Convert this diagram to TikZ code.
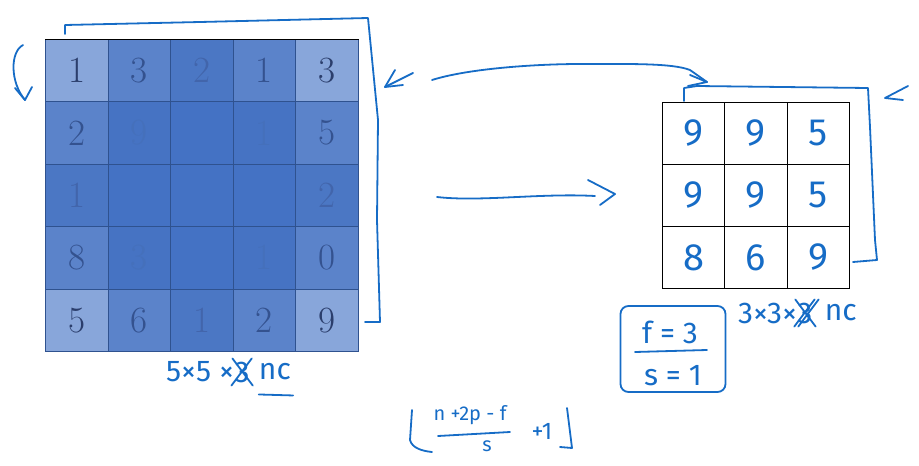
\documentclass[tikz,border=0pt]{standalone}
\usepackage{fontspec}
\newfontfamily\hand{Fira Sans}
\definecolor{ink}{RGB}{22,108,198}
\definecolor{cA}{HTML}{88A6DA}
\definecolor{cB}{HTML}{5B83CA}
\definecolor{cC}{HTML}{4B77C4}
\definecolor{cD}{HTML}{4673C3}
\definecolor{cE}{HTML}{4472C4}
\definecolor{edgeblue}{HTML}{2F528F}
\definecolor{tA}{HTML}{2B3E6C}
\definecolor{tB}{HTML}{34528F}
\definecolor{tC}{HTML}{4265AB}
\definecolor{tD}{HTML}{4570BB}
\definecolor{tE}{HTML}{4472C4}
\begin{document}
\begin{tikzpicture}[x=1pt,y=-1pt,
  inkline/.style={draw=ink,line width=1.8pt,line cap=round,line join=round},
  cell/.style={draw=edgeblue,line width=0.6pt,minimum width=62.6pt,minimum height=62.4pt,inner sep=0pt,anchor=north west,font=\fontsize{37}{39}\selectfont},
  ocell/.style={draw=black,line width=1pt,minimum width=62.3pt,minimum height=62pt,inner sep=0pt,anchor=north west,font=\hand\fontsize{38}{40}\selectfont,text=ink},
  hw/.style={inner sep=0pt,text=ink,font=\hand\fontsize{30}{32}\selectfont},
  hws/.style={inner sep=0pt,text=ink,font=\hand\fontsize{20}{22}\selectfont}]
\useasboundingbox (0,0) rectangle (919,466);

% ---- left 5x5 input
\foreach \r/\c/\k/\t in {
 1/1/A/1,1/2/B/3,1/3/C/2,1/4/B/1,1/5/A/3,
 2/1/B/2,2/2/D/9,2/3/E/{},2/4/D/1,2/5/B/5,
 3/1/C/1,3/2/E/{},3/3/E/{},3/4/E/{},3/5/C/2,
 4/1/B/8,4/2/D/3,4/3/E/{},4/4/D/1,4/5/B/0,
 5/1/A/5,5/2/B/6,5/3/C/1,5/4/B/2,5/5/A/9}
 \node[cell,fill=c\k,text=t\k] (L-\r-\c) at ({45+(\c-1)*62.6},{39+(\r-1)*62.4}) {\t};
\draw[black,line width=0.6pt] (L-1-1.north west) -- (L-1-5.north east);

% ---- right 3x3 output
\foreach \r/\c/\t in {1/1/9,1/2/9,1/3/5,2/1/9,2/2/9,2/3/5,3/1/8,3/2/6,3/3/9}
 \node[ocell] (R-\r-\c) at ({662+(\c-1)*62.3},{102+(\r-1)*62}) {\t};

% ---- brackets
\draw[inkline] (65,34) -- (65,25) -- (200,22) -- (368,18) -- (378,120) -- (377,220) -- (380,322) -- (365,322);
\draw[inkline] (684,101) -- (684,88) -- (697,86) -- (868,88) -- (870,127) -- (875,240) -- (877,260) -- (853,262);

% ---- left curl arrow
\draw[inkline] (23,45) .. controls (10,52) and (10,82) .. (25,100);
\draw[inkline] (15,88) -- (25,100) -- (32,87);

% ---- arrow pointing at left bracket
\draw[inkline] (413,73) -- (385,87);
\draw[inkline] (395,70) -- (385,87) -- (403,85);

% ---- top arrow
\draw[inkline] (432,80) .. controls (470,68) and (540,64) .. (580,64) .. controls (630,64) and (672,63) .. (690,70) -- (707,82);
\draw[inkline] (690,75) -- (707,82) -- (688,86);

% ---- middle arrow
\draw[inkline] (437,197) .. controls (480,202) and (540,193) .. (595,196);
\draw[inkline] (588,180) -- (615,194) -- (600,205);

% ---- arrow pointing at right bracket
\draw[inkline] (908,86) -- (885,98) -- (903,100);

% ---- label under left grid
\node[hw,anchor=west] (dl1) at (166,372) {5×5 ×};
\node[hw,anchor=west] (dl3) at (dl1.east) {3};
\node[hw,anchor=west] (dlnc) at ([xshift=9pt]dl3.east) {nc};
\draw[inkline] ([xshift=-2pt,yshift=3pt]dl3.north west) -- ([xshift=3pt,yshift=-3pt]dl3.south east);
\draw[inkline] ([xshift=2pt,yshift=3pt]dl3.north east) -- ([xshift=-3pt,yshift=-3pt]dl3.south west);
\draw[inkline] ([yshift=-14pt]dlnc.south west) -- ([xshift=2pt,yshift=-15pt]dlnc.south east);

% ---- label under right grid
\node[hw,anchor=west] (dr1) at (738,313) {3×3×};
\node[hw,anchor=west] (dr3) at (dr1.east) {3};
\node[hw,anchor=west] (drnc) at ([xshift=12pt]dr3.east) {nc};
\draw[inkline] ([xshift=-2pt,yshift=3pt]dr3.north west) -- ([xshift=3pt,yshift=-3pt]dr3.south east);
\draw[inkline] ([xshift=2pt,yshift=3pt]dr3.north east) -- ([xshift=-3pt,yshift=-3pt]dr3.south west);
\draw[inkline] ([xshift=6pt,yshift=3pt]dr3.north east) -- ([xshift=1pt,yshift=-3pt]dr3.south west);

% ---- f/s box
\node[draw=ink,line width=1.8pt,rounded corners=8pt,minimum width=105pt,minimum height=86pt] (fsbox) at (673,349) {};
\node[hw] (fval) at (670,332) {f = 3};
\node[hw] (sval) at (673,376) {s = 1};
\draw[inkline] (635,352) -- (707,350);

% ---- formula
\draw[inkline] (412,410) -- (410,440) .. controls (412,448) and (422,451) .. (432,452);
\node[hws] (num) at (470,415) {n +2p - f};
\draw[inkline] (438,436) -- (510,432);
\node[hws] (den) at (487,446) {s};
\node[hw,font=\hand\fontsize{24}{26}\selectfont] (plus1) at (542,431) {+1};
\draw[inkline] (567,408) -- (572,448) -- (560,447);
\end{tikzpicture}
\end{document}
